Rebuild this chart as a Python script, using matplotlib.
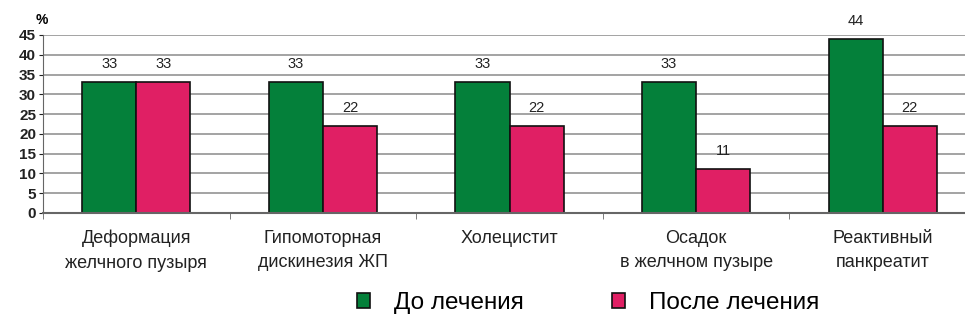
import numpy as np
import matplotlib.pyplot as plt
from matplotlib.patches import Patch

plt.rcParams['font.family'] = ['Liberation Sans', 'DejaVu Sans']

categories = ['Деформация\nжелчного пузыря', 'Гипомоторная\nдискинезия ЖП',
              'Холецистит', 'Осадок\nв желчном пузыре', 'Реактивный\nпанкреатит']
before = [33, 33, 33, 33, 44]
after = [33, 22, 22, 11, 22]
series_names = ['До лечения', 'После лечения']

green = '#04803a'
pink = '#e01f64'

fig = plt.figure(figsize=(9.65, 3.22), dpi=100)
ax = fig.add_axes([43/965, 1-213/322, 933/965, 178/322])

x = np.arange(len(categories))
w = 0.29
b1 = ax.bar(x - w/2, before, w, color=green, edgecolor='#111111', linewidth=1.2)
b2 = ax.bar(x + w/2, after, w, color=pink, edgecolor='#111111', linewidth=1.2)

for bars, vals in ((b1, before), (b2, after)):
    for r, v in zip(bars, vals):
        ax.annotate(str(v), (r.get_x() + r.get_width()/2, v), xytext=(0, 8),
                    textcoords='offset points', ha='center', va='bottom',
                    fontsize=10.5, color='#222222')

ax.set_xlim(-0.5, len(categories) - 0.5)
ax.set_ylim(0, 45)
ax.set_yticks(range(0, 46, 5))
ax.yaxis.grid(True, color='#8a8a8a', linewidth=1.1)
ax.set_axisbelow(True)
for s in ('top', 'right'):
    ax.spines[s].set_visible(False)
ax.spines['left'].set_color('#666666')
ax.spines['bottom'].set_color('#666666')
ax.spines['bottom'].set_linewidth(1.5)
ax.tick_params(axis='y', labelsize=11, length=3, pad=2, colors='#222222')
ax.set_xticks(np.arange(len(categories) + 1) - 0.5, minor=True)
ax.set_xticks(x)
ax.set_xticklabels(categories, fontsize=13, color='#222222', linespacing=1.6)
ax.tick_params(axis='x', which='major', length=0, pad=12)
ax.tick_params(axis='x', which='minor', length=4, color='#666666')
for lab in ax.get_yticklabels():
    lab.set_fontweight('bold')

fig.text(42/965, 1-20/322, '%', fontsize=10, fontweight='bold', ha='center', va='center')

handles = [Patch(facecolor=green, edgecolor='#111111', linewidth=1.2),
           Patch(facecolor=pink, edgecolor='#111111', linewidth=1.2)]
fig.legend(handles, series_names, loc='center', bbox_to_anchor=(588/965, 1-303/322),
           ncol=2, frameon=False, fontsize=17.5, handlelength=0.55, handleheight=0.55,
           handletextpad=1.0, columnspacing=3.6)

fig.savefig('out.png', dpi=100)
